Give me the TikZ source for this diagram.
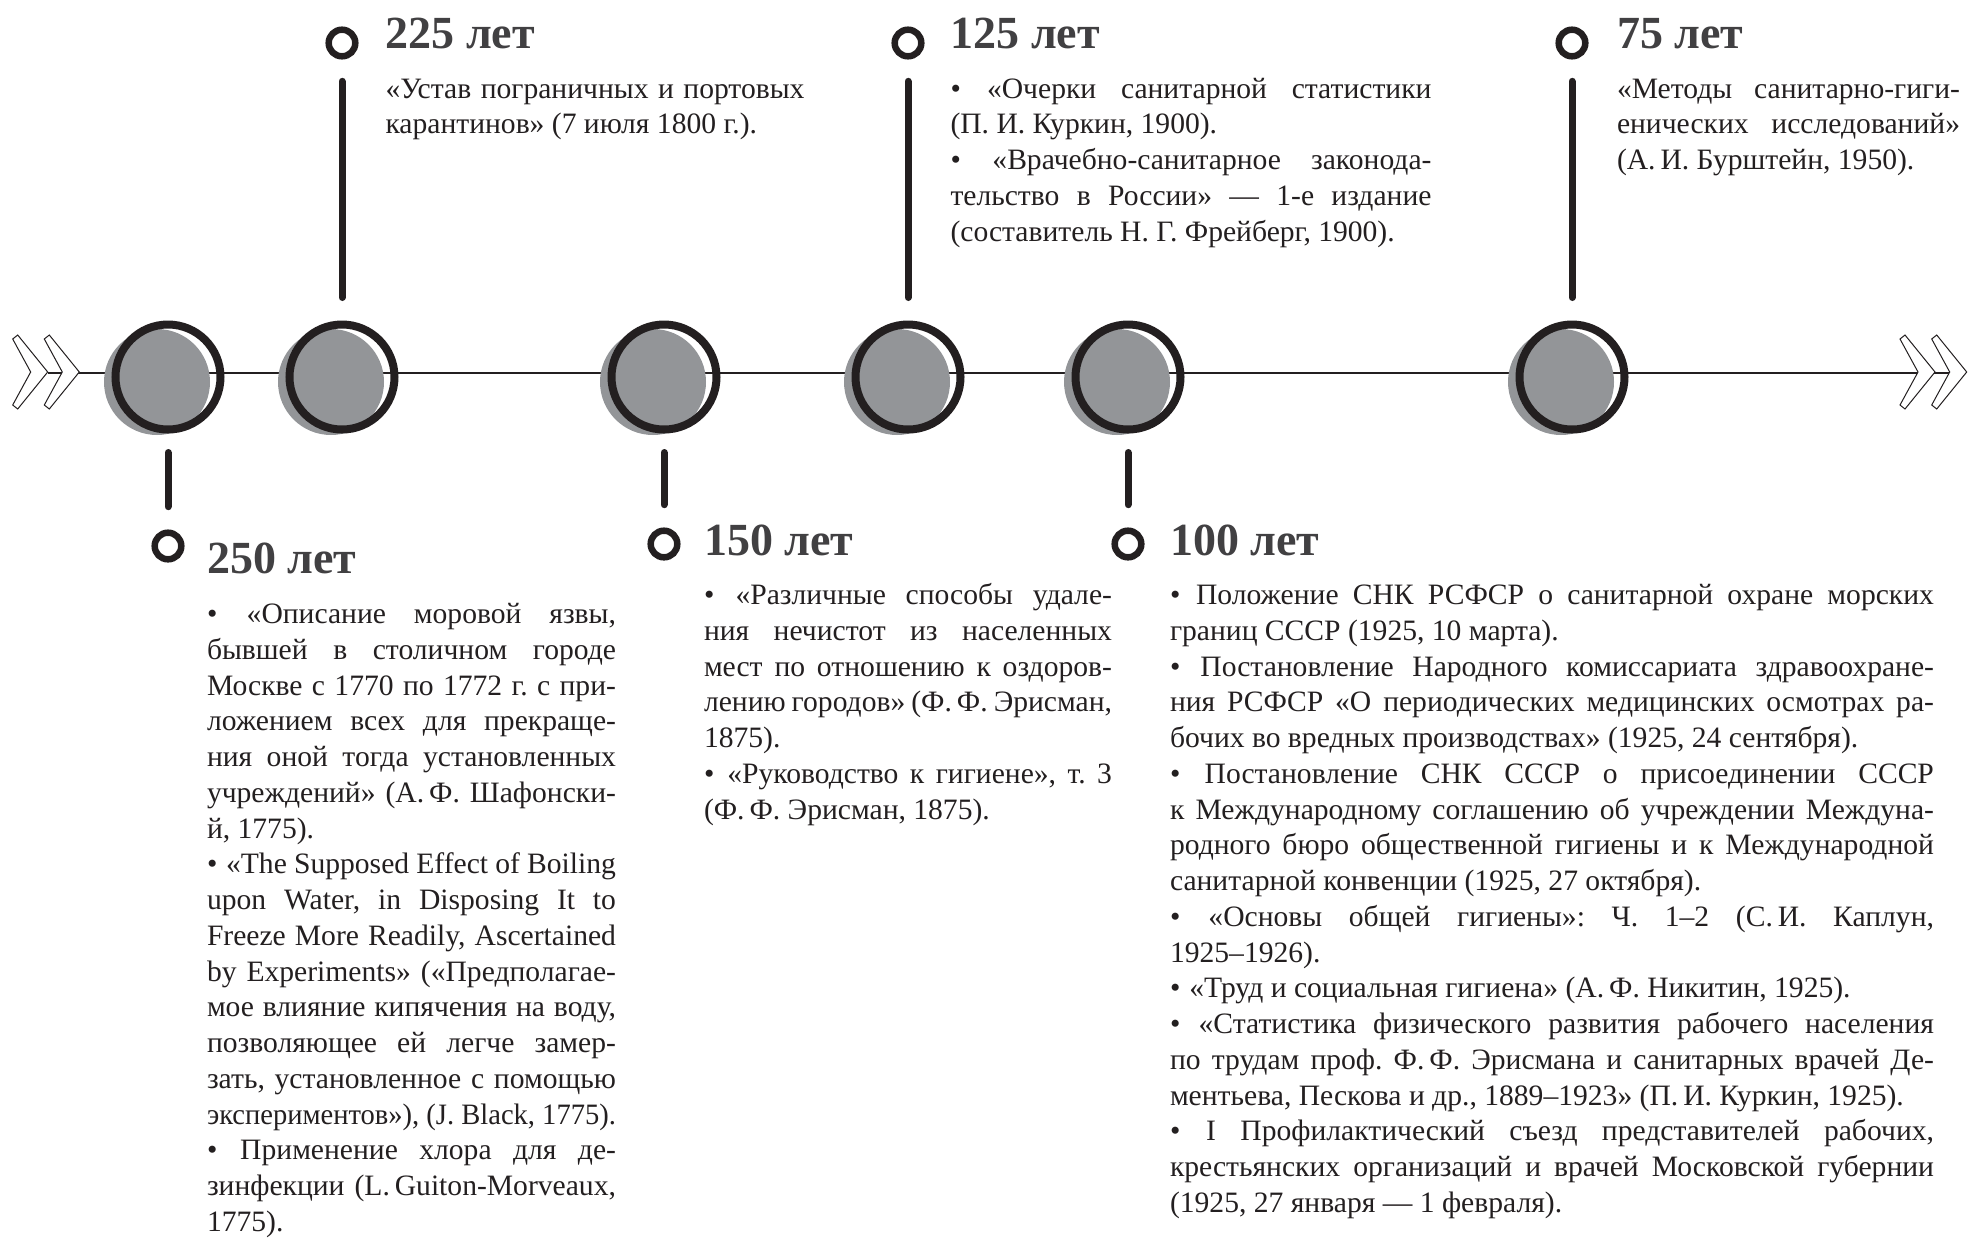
\documentclass[tikz,border=0pt]{standalone}
\usepackage{fontspec}
\usepackage{graphicx}
\setmainfont{Liberation Serif}
\definecolor{ink}{HTML}{231F20}
\definecolor{discgray}{HTML}{939598}
\definecolor{headgray}{HTML}{414042}
\newcommand\jline[1]{\hbox to \bw{#1}}
\newcommand\lline[1]{\hbox{#1}}
\newcommand\fitline[1]{\hbox{\resizebox{\bw}{\height}{#1}}}
\newcommand\bul{•\hskip 0.3em plus 0.6em minus 0.1em\relax}
\newcommand\tblock[2]{\vtop{\def\bw{#1}\frenchspacing\spaceskip=0.25em plus 0.6em minus 0.12em\relax
  \baselineskip=17.875pt\lineskiplimit=-100pt\lineskip=0pt #2}}
\tikzset{
  axisline/.style={draw=ink, line width=1.35pt},
  chevron/.pic={\draw[draw=ink, fill=white, line width=0.5pt, line join=miter]
     (0,4) -- (5,0) -- (35,37) -- (5,74) -- (0,70) -- (18,37) -- cycle;},
  graydisc/.style={circle, fill=discgray, minimum size=53pt, inner sep=0pt, outer sep=0pt},
  bigring/.style={circle, draw=ink, line width=4pt, minimum size=52.5pt, inner sep=0pt, outer sep=0pt},
  smallring/.style={circle, draw=ink, line width=3.25pt, minimum size=13.3pt, inner sep=0pt, outer sep=0pt},
  stem/.style={draw=ink, line width=3.5pt, line cap=round},
  upstem/.style={stem, shorten <=12.5pt, shorten >=13.5pt},
  downstem/.style={stem, shorten <=11.5pt, shorten >=13pt},
  headtext/.style={anchor=base west, inner sep=0pt, outer sep=0pt, text=headgray,
     font=\fontsize{23pt}{26pt}\selectfont\bfseries},
  bodytext/.style={anchor=base west, inner sep=0pt, outer sep=0pt, text=ink,
     font=\fontsize{14.8pt}{17.875pt}\selectfont},
}
\begin{document}
\begin{tikzpicture}[x=0.5pt, y=-0.5pt]
\useasboundingbox (0,0) rectangle (1982,1238);
% axis
\coordinate (axL) at (47.7,373);
\coordinate (axR) at (1949,373);
\draw[axisline] (axL) -- (axR);
\pic at (12.7,335) {chevron};
\pic at (44.3,335) {chevron};
\pic at (1900,335) {chevron};
\pic at (1931.7,335) {chevron};
% gray discs
\node[graydisc] (g1) at (157,382) {};
\node[graydisc] (g2) at (331,382) {};
\node[graydisc] (g3) at (653,382) {};
\node[graydisc] (g4) at (897,382) {};
\node[graydisc] (g5) at (1117,382) {};
\node[graydisc] (g6) at (1561,382) {};
% rings
\node[bigring] (c1) at (168,377) {};
\node[bigring] (c2) at (342,377) {};
\node[bigring] (c3) at (664,377) {};
\node[bigring] (c4) at (908,377) {};
\node[bigring] (c5) at (1128,377) {};
\node[bigring] (c6) at (1572,377) {};
% small rings
\node[smallring] (r1) at (168,546) {};
\node[smallring] (r2) at (342,43) {};
\node[smallring] (r3) at (664,544) {};
\node[smallring] (r4) at (908,43) {};
\node[smallring] (r5) at (1128,544) {};
\node[smallring] (r6) at (1572,43) {};
% stems
\draw[upstem] (r2) -- (c2);
\draw[upstem] (r4) -- (c4);
\draw[upstem] (r6) -- (c6);
\draw[downstem] (c1) -- (r1);
\draw[downstem] (c3) -- (r3);
\draw[downstem] (c5) -- (r5);
% headings
\node[headtext] (h225) at (385.5,48) {225 лет};
\node[headtext] (h125) at (950.5,48) {125 лет};
\node[headtext] (h75) at (1617,48) {75 лет};
\node[headtext] (h250) at (207,573) {250 лет};
\node[headtext] (h150) at (704,555) {150 лет};
\node[headtext] (h100) at (1170,555) {100 лет};
% bodies
\node[bodytext] (b225) at (385.5,98) {\tblock{209.5pt}{%
\jline{«Устав пограничных и портовых}
\lline{карантинов» (7 июля 1800 г.).}}};
\node[bodytext] (b125) at (950.5,98) {\tblock{240.5pt}{%
\jline{\bul «Очерки санитарной статистики}
\lline{(П. И. Куркин, 1900).}
\jline{\bul «Врачебно-санитарное законода-}
\jline{тельство в России» — 1-е издание}
\lline{(составитель Н. Г. Фрейберг, 1900).}}};
\node[bodytext] (b75) at (1617,98) {\tblock{171.5pt}{%
\jline{«Методы санитарно-гиги-}
\jline{енических исследований»}
\lline{(А.\,И. Бурштейн, 1950).}}};
\node[bodytext] (b250) at (207,623.5) {\tblock{204.5pt}{%
\jline{\bul «Описание моровой язвы,}
\jline{бывшей в столичном городе}
\jline{Москве с 1770 по 1772 г. с при-}
\jline{ложением всех для прекраще-}
\jline{ния оной тогда установленных}
\jline{учреждений» (А.\,Ф. Шафонски-}
\lline{й, 1775).}
\jline{\bul «The Supposed Effect of Boiling}
\jline{upon Water, in Disposing It to}
\jline{Freeze More Readily, Ascertained}
\jline{by Experiments» («Предполагае-}
\jline{мое влияние кипячения на воду,}
\jline{позволяющее ей легче замер-}
\jline{зать, установленное с помощью}
\fitline{экспериментов»), (J. Black, 1775).}
\jline{\bul Применение хлора для де-}
\jline{зинфекции (L.\,Guiton-Morveaux,}
\lline{1775).}}};
\node[bodytext] (b150) at (704,604.5) {\tblock{204pt}{%
\jline{\bul «Различные способы удале-}
\jline{ния нечистот из населенных}
\jline{мест по отношению к оздоров-}
\jline{лению городов» (Ф.\,Ф. Эрисман,}
\lline{1875).}
\jline{\bul «Руководство к гигиене», т. 3}
\lline{(Ф.\,Ф. Эрисман, 1875).}}};
\node[bodytext] (b100) at (1170,604.5) {\tblock{382pt}{%
\jline{\bul Положение СНК РСФСР о санитарной охране морских}
\lline{границ СССР (1925, 10 марта).}
\jline{\bul Постановление Народного комиссариата здравоохране-}
\jline{ния РСФСР «О периодических медицинских осмотрах ра-}
\lline{бочих во вредных производствах» (1925, 24 сентября).}
\jline{\bul Постановление СНК СССР о присоединении СССР}
\jline{к Международному соглашению об учреждении Междуна-}
\jline{родного бюро общественной гигиены и к Международной}
\lline{санитарной конвенции (1925, 27 октября).}
\jline{\bul «Основы общей гигиены»: Ч. 1–2 (С.\,И. Каплун,}
\lline{1925–1926).}
\lline{\bul «Труд и социальная гигиена» (А.\,Ф. Никитин, 1925).}
\jline{\bul «Статистика физического развития рабочего населения}
\jline{по трудам проф. Ф.\,Ф. Эрисмана и санитарных врачей Де-}
\lline{ментьева, Пескова и др., 1889–1923» (П.\,И. Куркин, 1925).}
\jline{\bul I Профилактический съезд представителей рабочих,}
\jline{крестьянских организаций и врачей Московской губернии}
\lline{(1925, 27 января — 1 февраля).}}};
\end{tikzpicture}
\end{document}
